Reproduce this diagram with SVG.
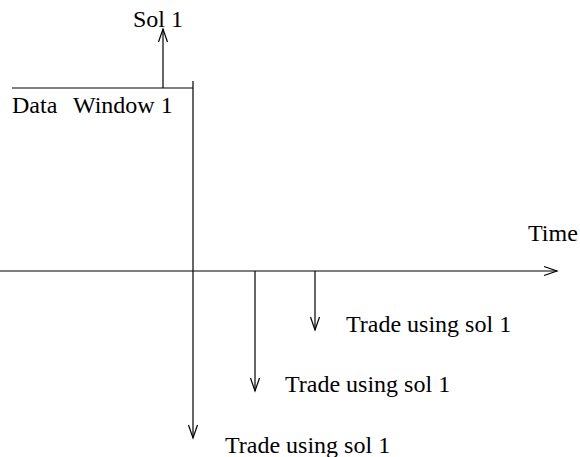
<svg xmlns="http://www.w3.org/2000/svg" width="580" height="457" viewBox="0 0 580 457">
<style>
text{font-family:"Liberation Serif","Times New Roman",serif;font-size:24px;fill:#000}
.ln{stroke:#000;stroke-width:1.2;fill:none}
</style>
<defs>
<marker id="ah" markerUnits="userSpaceOnUse" markerWidth="16" markerHeight="12" refX="14" refY="6" orient="auto">
<path d="M1,1.5 L14,6 L1,10.5" fill="none" stroke="#000" stroke-width="1.2"/>
</marker>
</defs>
<g id="connectors">
<line class="ln" x1="12" y1="88" x2="193" y2="88"/>
<line class="ln" x1="163" y1="88" x2="163" y2="29" marker-end="url(#ah)"/>
<line class="ln" x1="0" y1="271" x2="557" y2="271" marker-end="url(#ah)"/>
<line class="ln" x1="193" y1="81" x2="193" y2="438" marker-end="url(#ah)"/>
<line class="ln" x1="255" y1="271" x2="255" y2="391" marker-end="url(#ah)"/>
<line class="ln" x1="315" y1="271" x2="315" y2="330" marker-end="url(#ah)"/>
</g>
<g id="sol1"><text x="133" y="27">Sol 1</text></g>
<g id="datawindow"><text x="12" y="113">Data<tspan x="73">Window 1</tspan></text></g>
<g id="time"><text x="528" y="241">Time</text></g>
<g id="trade1"><text x="346" y="332">Trade using sol 1</text></g>
<g id="trade2"><text x="285" y="392">Trade using sol 1</text></g>
<g id="trade3"><text x="225" y="453">Trade using sol 1</text></g>
</svg>
